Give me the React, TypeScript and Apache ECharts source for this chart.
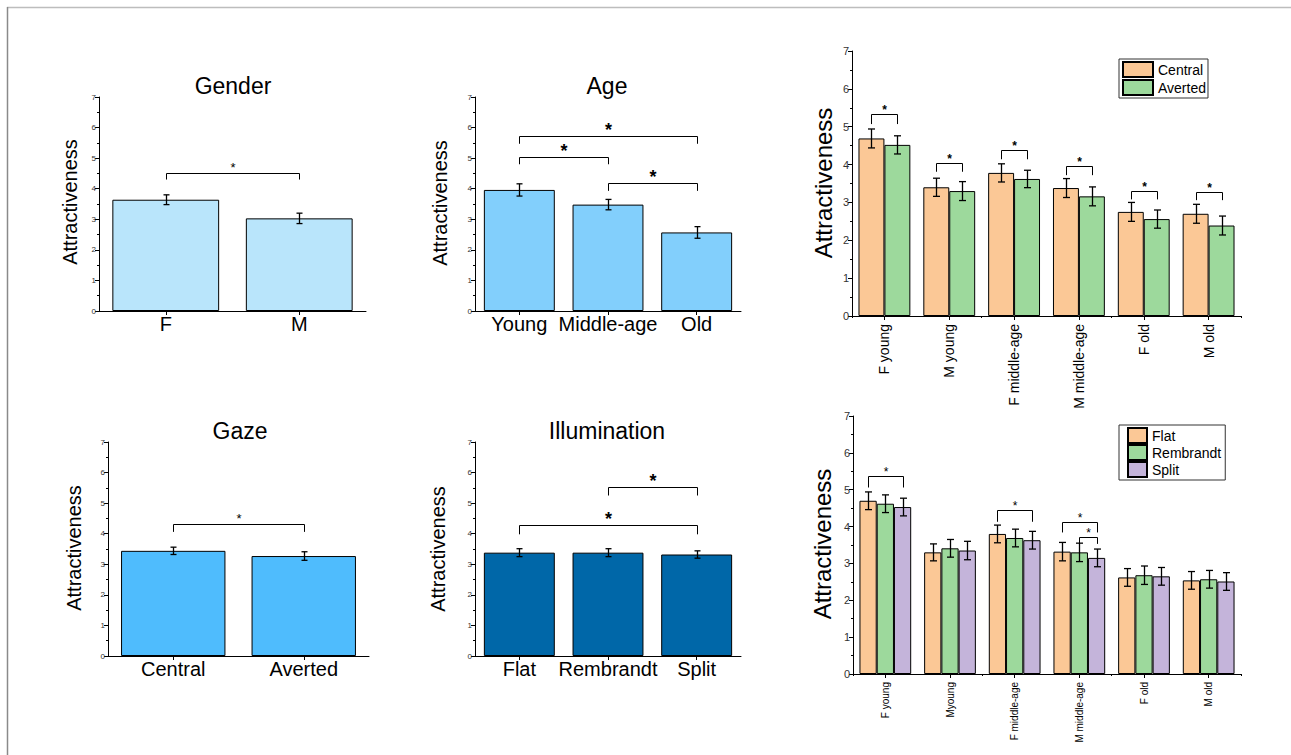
import React, { useEffect, useRef } from "react";
import * as echarts from "echarts";

// ---------- data ----------
const genderCats = ["F", "M"];
const genderVals = [3.64, 3.03];
const genderErr = [0.16, 0.17];
const genderSig = [{ a: 0, b: 1, y: 4.5, leg: 4.3 }];

const ageCats = ["Young", "Middle-age", "Old"];
const ageVals = [3.96, 3.48, 2.57];
const ageErr = [0.2, 0.17, 0.19];
const ageSig = [
  { a: 0, b: 2, y: 5.72, leg: 5.47 },
  { a: 0, b: 1, y: 5.05, leg: 4.8 },
  { a: 1, b: 2, y: 4.2, leg: 3.93 },
];

const gazeCats = ["Central", "Averted"];
const gazeVals = [3.44, 3.27];
const gazeErr = [0.12, 0.14];
const gazeSig = [{ a: 0, b: 1, y: 4.31, leg: 4.06 }];

const illumCats = ["Flat", "Rembrandt", "Split"];
const illumVals = [3.38, 3.38, 3.32];
const illumErr = [0.13, 0.13, 0.12];
const illumSig = [
  { a: 1, b: 2, y: 5.54, leg: 5.25 },
  { a: 0, b: 2, y: 4.27, leg: 3.98 },
];

const gazeGroupCats = ["F young", "M young", "F middle-age", "M middle-age", "F old", "M old"];
const centralVals = [4.69, 3.4, 3.78, 3.38, 2.75, 2.7];
const centralErr = [0.25, 0.24, 0.24, 0.25, 0.25, 0.25];
const avertedVals = [4.52, 3.3, 3.62, 3.16, 2.56, 2.39];
const avertedErr = [0.24, 0.25, 0.23, 0.25, 0.24, 0.25];
const gazeGroupSig = [
  { cat: 0, a: 0, b: 1, y: 5.33, leg: 5.07 },
  { cat: 1, a: 0, b: 1, y: 4.03, leg: 3.81 },
  { cat: 2, a: 0, b: 1, y: 4.38, leg: 4.14 },
  { cat: 3, a: 0, b: 1, y: 3.96, leg: 3.72 },
  { cat: 4, a: 0, b: 1, y: 3.31, leg: 3.08 },
  { cat: 5, a: 0, b: 1, y: 3.28, leg: 3.06 },
];

const illumGroupCats = ["F young", "Myoung", "F middle-age", "M middle-age", "F old", "M old"];
const flatVals = [4.7, 3.3, 3.8, 3.32, 2.62, 2.54];
const flatErr = [0.24, 0.23, 0.24, 0.25, 0.24, 0.24];
const rembVals = [4.62, 3.41, 3.69, 3.3, 2.68, 2.57];
const rembErr = [0.24, 0.24, 0.24, 0.25, 0.25, 0.24];
const splitVals = [4.53, 3.35, 3.63, 3.15, 2.65, 2.51];
const splitErr = [0.24, 0.25, 0.24, 0.24, 0.24, 0.24];
const illumGroupSig = [
  { cat: 0, a: 0, b: 2, y: 5.37, leg: 5.06 },
  { cat: 2, a: 0, b: 2, y: 4.44, leg: 4.13 },
  { cat: 3, a: 0, b: 2, y: 4.13, leg: 3.84 },
  { cat: 3, a: 1, b: 2, y: 3.72, leg: 3.53 },
];

const yMin = 0;
const yMax = 7;
const yStep = 1;

// ---------- styling ----------
const FONT = "'Liberation Sans', Arial, Helvetica, sans-serif";
const C_GENDER = "#b9e5fb";
const C_AGE = "#82cffc";
const C_GAZE = "#4fbcfd";
const C_ILLUM = "#0067a8";
const C_PEACH = "#fbc896";
const C_GREEN = "#9dd99c";
const C_LAV = "#c4b4da";

type G = { left: number; top: number; width: number; height: number };
const grids: G[] = [
  { left: 99, top: 97, width: 267, height: 214 },
  { left: 475, top: 97, width: 266, height: 214 },
  { left: 108, top: 442, width: 261, height: 214 },
  { left: 475, top: 442, width: 266, height: 214 },
  { left: 852, top: 51, width: 389, height: 265 },
  { left: 853, top: 416, width: 388, height: 258 },
];

function offset(k: number, n: number, cw: number) {
  return (k - (n - 1) / 2) * (0.8 / n) * cw;
}

function errSeries(gi: number, vals: number[], errs: number[], k: number, n: number, cap: number, lw: number) {
  return {
    type: "custom",
    xAxisIndex: gi,
    yAxisIndex: gi,
    z: 5,
    clip: false,
    silent: true,
    data: vals.map((v, i) => [i, v - errs[i], v + errs[i]]),
    renderItem: (params: any, api: any) => {
      const lo = api.coord([api.value(0), api.value(1)]);
      const hi = api.coord([api.value(0), api.value(2)]);
      const cw = api.size([1, 0])[0];
      const x = Math.round(lo[0] + offset(k, n, cw)) + 0.5;
      const style = { stroke: "#000", lineWidth: lw, fill: null };
      return {
        type: "group",
        children: [
          { type: "line", shape: { x1: x, y1: lo[1], x2: x, y2: hi[1] }, style },
          { type: "line", shape: { x1: x - cap, y1: lo[1], x2: x + cap, y2: lo[1] }, style },
          { type: "line", shape: { x1: x - cap, y1: hi[1], x2: x + cap, y2: hi[1] }, style },
        ],
      };
    },
  };
}

function sigSeries(gi: number, sigs: any[], n: number, fontSize: number, starGap: number, bold: boolean) {
  return {
    type: "custom",
    xAxisIndex: gi,
    yAxisIndex: gi,
    z: 6,
    clip: false,
    silent: true,
    data: sigs.map((s) => [s.cat !== undefined ? s.cat : s.a, s.y, s.leg]),
    renderItem: (params: any, api: any) => {
      const s = sigs[params.dataIndex];
      const cw = api.size([1, 0])[0];
      let xa: number;
      let xb: number;
      if (n === 1) {
        xa = api.coord([s.a, s.y])[0];
        xb = api.coord([s.b, s.y])[0];
      } else {
        const c = api.coord([s.cat, s.y])[0];
        xa = c + offset(s.a, n, cw);
        xb = c + offset(s.b, n, cw);
      }
      xa = Math.round(xa) + 0.5;
      xb = Math.round(xb) + 0.5;
      const yt = Math.round(api.coord([0, s.y])[1]) + 0.5;
      const yl = api.coord([0, s.leg])[1];
      return {
        type: "group",
        children: [
          {
            type: "polyline",
            shape: { points: [[xa, yl], [xa, yt], [xb, yt], [xb, yl]] },
            style: { stroke: "#000", lineWidth: 1, fill: null },
          },
          {
            type: "text",
            x: (xa + xb) / 2,
            y: yt - starGap,
            style: {
              text: "*",
              fontSize,
              fontFamily: FONT,
              fontWeight: bold ? "bold" : "normal",
              fill: "#000",
              stroke: null,
              align: "center",
              verticalAlign: "middle",
            },
          },
        ],
      };
    },
  };
}

function barSeries(gi: number, vals: number[], color: string, name?: string) {
  return {
    type: "bar",
    name,
    xAxisIndex: gi,
    yAxisIndex: gi,
    data: vals,
    barGap: "0%",
    barCategoryGap: "20%",
    itemStyle: { color, borderColor: "#000", borderWidth: 1 },
    silent: true,
  };
}

function yAxisFor(gi: number, fontSize: number) {
  return {
    type: "value",
    gridIndex: gi,
    min: yMin,
    max: yMax,
    interval: yStep,
    axisLine: { show: true, lineStyle: { color: "#000", width: 1 } },
    axisTick: { show: true, length: 4, lineStyle: { color: "#000" } },
    minorTick: { show: true, splitNumber: 2, length: 2, lineStyle: { color: "#000" } },
    axisLabel: { fontSize, color: "#333", margin: 3, fontFamily: FONT },
    splitLine: { show: false },
  };
}

function xAxisFor(gi: number, cats: string[], fontSize: number, rotate = 0, margin = 3) {
  return {
    type: "category",
    gridIndex: gi,
    data: cats,
    axisLine: { show: true, onZero: false, lineStyle: { color: "#000", width: 1 } },
    axisTick: { show: true, alignWithLabel: true, length: 4, lineStyle: { color: "#000" } },
    axisLabel: { fontSize, color: "#000", margin, rotate, interval: 0, fontFamily: FONT },
    splitLine: { show: false },
  };
}

function boundaryAxis(gi: number, cats: string[]) {
  return {
    type: "category",
    gridIndex: gi,
    data: cats,
    position: "bottom",
    axisLine: { show: false },
    axisTick: { show: true, alignWithLabel: false, length: 2, lineStyle: { color: "#000" } },
    axisLabel: { show: false },
    splitLine: { show: false },
  };
}

function yName(x: number, y: number, size: number) {
  return {
    type: "text",
    x,
    y,
    rotation: Math.PI / 2,
    style: {
      text: "Attractiveness",
      fontSize: size,
      fontFamily: FONT,
      fill: "#000",
      align: "center",
      verticalAlign: "middle",
    },
  };
}

function titleText(x: number, y: number, text: string) {
  return {
    type: "text",
    x,
    y,
    style: { text, fontSize: 23, fontFamily: FONT, fill: "#000", align: "center", verticalAlign: "middle" },
  };
}

export default function App() {
  const ref = useRef<HTMLDivElement>(null);
  useEffect(() => {
    if (!ref.current) return;
    const chart = echarts.init(ref.current, undefined, { renderer: "svg" });
    const option: any = {
      animation: false,
      backgroundColor: "#fff",
      textStyle: { fontFamily: FONT },
      grid: grids.map((g) => ({ ...g, containLabel: false })),
      xAxis: [
        xAxisFor(0, genderCats, 20),
        xAxisFor(1, ageCats, 20),
        xAxisFor(2, gazeCats, 20),
        xAxisFor(3, illumCats, 20),
        xAxisFor(4, gazeGroupCats, 14, 90, 8),
        xAxisFor(5, illumGroupCats, 10, 90, 8),
        boundaryAxis(4, gazeGroupCats),
        boundaryAxis(5, illumGroupCats),
      ],
      yAxis: [
        yAxisFor(0, 8),
        yAxisFor(1, 8),
        yAxisFor(2, 8),
        yAxisFor(3, 8),
        yAxisFor(4, 11),
        yAxisFor(5, 11),
      ],
      legend: [
        {
          data: ["Central", "Averted"],
          orient: "vertical",
          left: 1119,
          top: 59,
          itemWidth: 30,
          itemHeight: 15,
          itemGap: 1,
          padding: [2, 2, 2, 3],
          borderColor: "#333",
          borderWidth: 1,
          icon: "rect",
          textStyle: { fontSize: 14, color: "#000", fontFamily: FONT },
          selectedMode: false,
        },
        {
          data: ["Flat", "Rembrandt", "Split"],
          orient: "vertical",
          left: 1119,
          top: 425,
          itemWidth: 19,
          itemHeight: 15,
          itemGap: 0,
          padding: [2, 4, 2, 8],
          borderColor: "#333",
          borderWidth: 1,
          icon: "rect",
          textStyle: { fontSize: 14, color: "#000", fontFamily: FONT },
          selectedMode: false,
        },
      ],
      series: [
        barSeries(0, genderVals, C_GENDER),
        errSeries(0, genderVals, genderErr, 0, 1, 3, 1.3),
        sigSeries(0, genderSig, 1, 13, 6, false),

        barSeries(1, ageVals, C_AGE),
        errSeries(1, ageVals, ageErr, 0, 1, 3, 1.3),
        sigSeries(1, ageSig, 1, 18, 7, true),

        barSeries(2, gazeVals, C_GAZE),
        errSeries(2, gazeVals, gazeErr, 0, 1, 3, 1.3),
        sigSeries(2, gazeSig, 1, 13, 6, false),

        barSeries(3, illumVals, C_ILLUM),
        errSeries(3, illumVals, illumErr, 0, 1, 3, 1.3),
        sigSeries(3, illumSig, 1, 18, 7, true),

        barSeries(4, centralVals, C_PEACH, "Central"),
        barSeries(4, avertedVals, C_GREEN, "Averted"),
        errSeries(4, centralVals, centralErr, 0, 2, 3.5, 1.3),
        errSeries(4, avertedVals, avertedErr, 1, 2, 3.5, 1.3),
        sigSeries(4, gazeGroupSig, 2, 12, 5, true),

        barSeries(5, flatVals, C_PEACH, "Flat"),
        barSeries(5, rembVals, C_GREEN, "Rembrandt"),
        barSeries(5, splitVals, C_LAV, "Split"),
        errSeries(5, flatVals, flatErr, 0, 3, 3.5, 1.3),
        errSeries(5, rembVals, rembErr, 1, 3, 3.5, 1.3),
        errSeries(5, splitVals, splitErr, 2, 3, 3.5, 1.3),
        sigSeries(5, illumGroupSig, 3, 12, 5, false),
      ],
      graphic: [
        { type: "line", shape: { x1: 7, y1: 7.5, x2: 1291, y2: 7.5 }, style: { stroke: "#bdbdbd", lineWidth: 1.5 } },
        { type: "line", shape: { x1: 7.5, y1: 7, x2: 7.5, y2: 755 }, style: { stroke: "#8a8a8a", lineWidth: 1.5 } },
        titleText(233, 86, "Gender"),
        titleText(607, 86, "Age"),
        titleText(240, 431, "Gaze"),
        titleText(607, 431, "Illumination"),
        yName(70, 202, 20),
        yName(440, 203, 20),
        yName(74, 548, 20),
        yName(438, 549, 20),
        yName(823, 183, 24),
        yName(822, 544, 24),
      ],
    };
    chart.setOption(option);
    return () => chart.dispose();
  }, []);
  return (
    <div
      ref={ref}
      style={{ position: "absolute", left: 0, top: 0, width: 1291, height: 755, background: "#fff" }}
    />
  );
}
